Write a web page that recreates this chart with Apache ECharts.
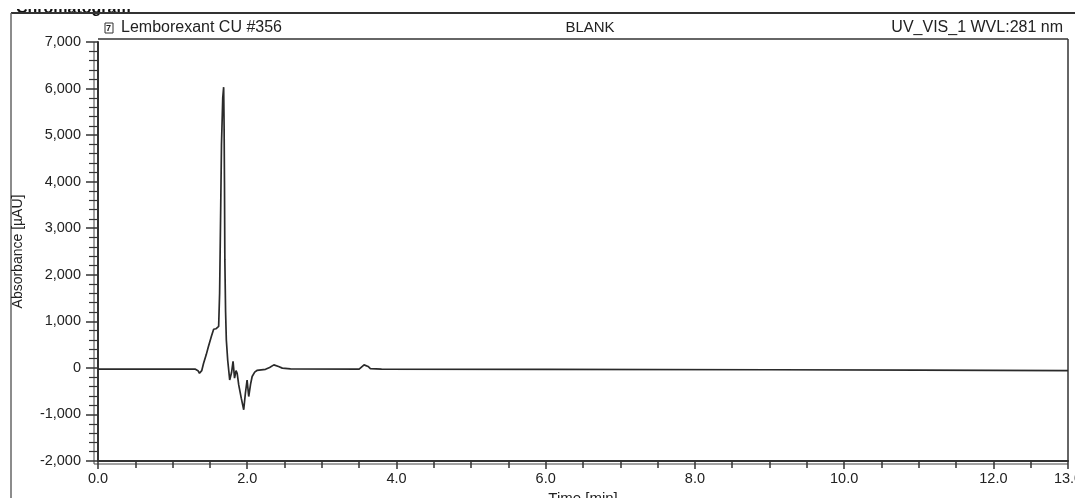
<!DOCTYPE html>
<html>
<head>
<meta charset="utf-8">
<script src="https://cdn.jsdelivr.net/npm/echarts@6/dist/echarts.min.js"></script>
<style>
  html, body { margin: 0; padding: 0; background: #fff; }
  #chart { width: 1075px; height: 498px; }
</style>
</head>
<body>
<div id="chart"></div>
<script>
// chromatogram trace (time in min, absorbance in µAU)
var timeMin = [0, 1.30, 1.34, 1.36, 1.39, 1.415, 1.45, 1.48, 1.52, 1.55, 1.58, 1.60, 1.617, 1.63,
  1.645, 1.655, 1.672, 1.684, 1.690, 1.695, 1.70, 1.71, 1.72, 1.738, 1.765, 1.79, 1.81, 1.83,
  1.85, 1.865, 1.886, 1.92, 1.953, 1.975, 1.998, 2.02, 2.045, 2.066, 2.10, 2.13, 2.245, 2.30,
  2.357, 2.42, 2.47, 2.58, 3.50, 3.566, 3.62, 3.65, 3.8, 6.0, 9.0, 11.0, 13.0];
var absorbance = [-25, -25, -60, -115, -60, 100, 280, 460, 680, 830, 840, 810, 890, 1610,
  3500, 4800, 5800, 6030, 5200, 4000, 2320, 1200, 600, 170, -260, -100, 140, -220,
  -60, -115, -365, -650, -900, -550, -260, -615, -350, -185, -90, -55, -30, 10,
  65, 30, -5, -20, -25, 65, 30, -15, -25, -30, -40, -50, -60];

var headerLeft = 'Lemborexant CU #356';
var headerMid = 'BLANK';
var headerRight = 'UV_VIS_1 WVL:281 nm';

var points = timeMin.map(function (t, i) { return [t, absorbance[i]]; });

var font = 'Liberation Sans, Arial, sans-serif';
var ink = '#222';

var chart = echarts.init(document.getElementById('chart'));
chart.setOption({
  backgroundColor: '#fff',
  animation: false,
  grid: {
    left: 98, right: 7, top: 42, bottom: 37,
    outerBoundsMode: 'none',
    containLabel: false
  },
  xAxis: {
    type: 'value',
    min: 0, max: 13, interval: 2,
    name: 'Time [min]',
    nameLocation: 'middle',
    nameGap: 24,
    nameTextStyle: { fontFamily: font, fontSize: 15, color: ink },
    axisLine: { onZero: false, lineStyle: { color: '#333', width: 2 } },
    axisTick: { inside: false, length: 8, lineStyle: { color: '#333', width: 1.5 } },
    minorTick: { show: true, splitNumber: 4, length: 7, lineStyle: { color: '#333', width: 1.5 } },
    axisLabel: {
      fontFamily: font, fontSize: 14.5, color: ink, margin: 10,
      formatter: function (v) { return v.toFixed(1); }
    },
    splitLine: { show: false }
  },
  yAxis: {
    type: 'value',
    min: -2000, max: 7000, interval: 1000,
    name: 'Absorbance [µAU]',
    nameLocation: 'middle',
    nameGap: 73,
    nameTextStyle: { fontFamily: font, fontSize: 14, color: ink },
    axisLine: { onZero: false, lineStyle: { color: '#333', width: 2 } },
    axisTick: { length: 12, lineStyle: { color: '#333', width: 1.5 } },
    minorTick: { show: true, splitNumber: 5, length: 9, lineStyle: { color: '#333', width: 1.2 } },
    axisLabel: {
      fontFamily: font, fontSize: 14.5, color: ink, margin: 17,
      formatter: function (v) { return v.toLocaleString('en-US'); }
    },
    splitLine: { show: false }
  },
  graphic: [
    // cut-off heading above the frame
    { type: 'text', left: 16, top: 1, style: { text: 'Chromatogram', font: 'bold 16px ' + font, fill: '#111' } },
    { type: 'rect', shape: { x: 0, y: 0, width: 1075, height: 9 }, style: { fill: '#fff' } },
    // outer frame
    { type: 'line', shape: { x1: 11, y1: 13, x2: 1075, y2: 13 }, style: { stroke: '#333', lineWidth: 2 } },
    { type: 'line', shape: { x1: 11, y1: 13, x2: 11, y2: 498 }, style: { stroke: '#666', lineWidth: 1.5 } },
    // plot frame: top, right and the doubled left / bottom lines
    { type: 'line', shape: { x1: 98, y1: 39, x2: 1068, y2: 39 }, style: { stroke: '#333', lineWidth: 1.5 } },
    { type: 'line', shape: { x1: 1068, y1: 39, x2: 1068, y2: 461 }, style: { stroke: '#333', lineWidth: 1.5 } },
    { type: 'line', shape: { x1: 94, y1: 42, x2: 94, y2: 464 }, style: { stroke: '#444', lineWidth: 1 } },
    { type: 'line', shape: { x1: 94, y1: 464, x2: 1068, y2: 464 }, style: { stroke: '#444', lineWidth: 1 } },
    // small icon
    { type: 'rect', shape: { x: 105, y: 23, width: 8, height: 10 }, style: { fill: '#fff', stroke: '#333', lineWidth: 1 } },
    { type: 'text', x: 106, y: 24, style: { text: '7', font: 'bold 9px ' + font, fill: '#222' } },
    { type: 'text', x: 121, y: 20, style: { text: headerLeft, font: '16px ' + font, fill: ink } },
    { type: 'text', x: 590, y: 20, style: { text: headerMid, font: '15px ' + font, fill: ink, textAlign: 'center' } },
    { type: 'text', x: 1063, y: 20, style: { text: headerRight, font: '16px ' + font, fill: ink, textAlign: 'right' } }
  ],
  series: [{
    type: 'line',
    data: points,
    showSymbol: false,
    smooth: false,
    lineStyle: { color: '#2a2a2a', width: 1.7 }
  }]
});
</script>
</body>
</html>
